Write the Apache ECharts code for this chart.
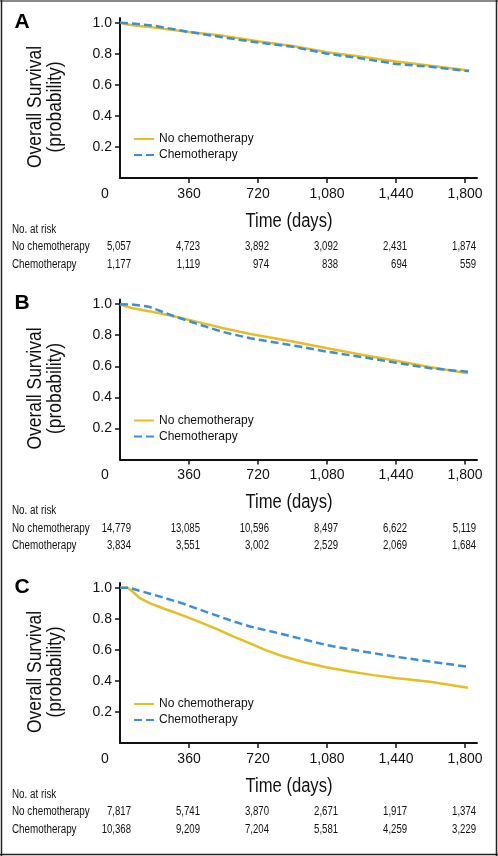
<!DOCTYPE html>
<html>
<head>
<meta charset="utf-8">
<script src="https://cdn.jsdelivr.net/npm/echarts@6/dist/echarts.min.js"></script>
<style>
html,body{margin:0;padding:0;background:#fff;}
#chart{width:498px;height:856px;}
</style>
</head>
<body>
<div id="chart"></div>
<script>
// ---------- DATA ----------
const xTicks = [0, 360, 720, 1080, 1440, 1800];
const yTicks = [0.2, 0.4, 0.6, 0.8, 1.0];
const seriesNames = ['No chemotherapy', 'Chemotherapy'];
const riskRows = ['No chemotherapy', 'Chemotherapy'];

// Panel A
const timeA_no = [0, 30, 90, 180, 360, 540, 720, 900, 1080, 1260, 1440, 1620, 1800, 1820];
const survA_no = [1.0, 0.99, 0.98, 0.968, 0.94, 0.915, 0.88, 0.85, 0.81, 0.78, 0.75, 0.722, 0.695, 0.693];
const timeA_ch = [0, 60, 180, 360, 540, 720, 900, 1080, 1260, 1440, 1620, 1800, 1820];
const survA_ch = [1.0, 0.995, 0.98, 0.94, 0.905, 0.872, 0.845, 0.80, 0.77, 0.734, 0.716, 0.69, 0.688];
const riskA_no = [5057, 4723, 3892, 3092, 2431, 1874];
const riskA_ch = [1177, 1119, 974, 838, 694, 559];

// Panel B
const timeB_no = [0, 20, 60, 150, 287, 420, 540, 680, 900, 1080, 1260, 1440, 1620, 1815];
const survB_no = [1.0, 0.99, 0.975, 0.955, 0.92, 0.881, 0.845, 0.808, 0.76, 0.716, 0.675, 0.636, 0.594, 0.555];
const timeB_ch = [0, 60, 150, 287, 420, 540, 680, 900, 1080, 1260, 1440, 1620, 1815];
const survB_ch = [1.0, 0.998, 0.984, 0.92, 0.866, 0.82, 0.78, 0.735, 0.694, 0.66, 0.623, 0.587, 0.565];
const riskB_no = [14779, 13085, 10596, 8497, 6622, 5119];
const riskB_ch = [3834, 3551, 3002, 2529, 2069, 1684];

// Panel C
const timeC_no = [0, 40, 68, 104, 157, 245, 330, 417, 506, 590, 678, 760, 850, 960, 1075, 1200, 1320, 1435, 1617, 1815];
const survC_no = [1.0, 1.0, 0.972, 0.932, 0.899, 0.858, 0.82, 0.778, 0.733, 0.686, 0.641, 0.598, 0.558, 0.52, 0.488, 0.46, 0.437, 0.418, 0.394, 0.356];
const timeC_ch = [0, 45, 157, 245, 330, 417, 506, 590, 678, 850, 1075, 1200, 1435, 1617, 1815];
const survC_ch = [1.0, 1.0, 0.961, 0.929, 0.897, 0.858, 0.82, 0.783, 0.75, 0.70, 0.631, 0.603, 0.556, 0.524, 0.491];
const riskC_no = [7817, 5741, 3870, 2671, 1917, 1374];
const riskC_ch = [10368, 9209, 7204, 5581, 4259, 3229];

// ---------- BUILD ----------
const REG = "'Liberation Sans', Arial, Helvetica, sans-serif";
const YELLOW = '#E5BE22';
const BLUE = '#3A8EDB';
const NARROW_SCALE = 0.82;

const panelDefs = [
  {letter: 'A', axisY: 178, tn: timeA_no, sn: survA_no, tc: timeA_ch, sc: survA_ch, rn: riskA_no, rc: riskA_ch},
  {letter: 'B', axisY: 459.5, tn: timeB_no, sn: survB_no, tc: timeB_ch, sc: survB_ch, rn: riskB_no, rc: riskB_ch},
  {letter: 'C', axisY: 743, tn: timeC_no, sn: survC_no, tc: timeC_ch, sc: survC_ch, rn: riskC_no, rc: riskC_ch}
];

const GL = 120, GW = 357, XMAX = 1862;
const grids = [], xAxes = [], yAxes = [], series = [], legends = [], graphics = [];
const fmt = v => Number(v).toLocaleString('en-US');
const zip = (a, b) => a.map((v, i) => [v, b[i]]);

panelDefs.forEach((p, i) => {
  grids.push({left: GL, width: GW, top: p.axisY - 160, height: 160});
  xAxes.push({
    type: 'value', gridIndex: i, min: 0, max: XMAX, interval: 360,
    axisLine: {show: true, lineStyle: {color: '#111', width: 2}},
    axisTick: {show: true, length: 5, lineStyle: {color: '#111', width: 1.5}, customValues: xTicks.slice(1)},
    axisLabel: {
      show: true, margin: 9, fontSize: 14, fontFamily: REG, color: '#111',
      customValues: xTicks,
      formatter: v => v === 0 ? '{z|0}' : fmt(v),
      rich: {z: {fontSize: 14, fontFamily: REG, color: '#111', padding: [0, 30, 0, 0]}}
    },
    splitLine: {show: false}
  });
  yAxes.push({
    type: 'value', gridIndex: i, min: 0, max: 1.03, interval: 0.2,
    axisLine: {show: true, lineStyle: {color: '#111', width: 2}},
    axisTick: {show: true, length: 5, lineStyle: {color: '#111', width: 1.5}, customValues: yTicks},
    axisLabel: {
      show: true, margin: 8, fontSize: 14, fontFamily: REG, color: '#111',
      customValues: yTicks, formatter: v => v.toFixed(1)
    },
    splitLine: {show: false}
  });
  series.push({
    name: seriesNames[0], type: 'line', xAxisIndex: i, yAxisIndex: i,
    data: zip(p.tn, p.sn), showSymbol: false, symbol: 'none', z: 3,
    lineStyle: {color: YELLOW, width: 2.5}, itemStyle: {color: YELLOW}
  });
  series.push({
    name: seriesNames[1], type: 'line', xAxisIndex: i, yAxisIndex: i,
    data: zip(p.tc, p.sc), showSymbol: false, symbol: 'none', z: 4,
    lineStyle: {color: BLUE, width: 2.5, type: [8, 4]}, itemStyle: {color: BLUE}
  });
  legends.push({
    orient: 'vertical', left: 133, top: p.axisY - 45, padding: 0,
    data: seriesNames.slice(), itemWidth: 20, itemHeight: 12, itemGap: 4,
    selectedMode: false,
    itemStyle: {opacity: 0},
    textStyle: {fontSize: 12, fontFamily: REG, color: '#111'}
  });
  graphics.push({type: 'text', x: 22, y: p.axisY - 156, style: {text: p.letter, font: 'bold 21px ' + REG, fill: '#000', align: 'center', verticalAlign: 'middle'}});
  graphics.push({type: 'text', x: 45, y: p.axisY - 71, rotation: Math.PI / 2, scaleX: 0.83,
    style: {text: 'Overall Survival\n(probability)', font: '21px ' + REG, lineHeight: 20, fill: '#111', align: 'center', verticalAlign: 'middle'}});
  graphics.push({type: 'text', x: 289, y: p.axisY + 43, scaleX: 0.83,
    style: {text: 'Time (days)', font: '20px ' + REG, fill: '#111', align: 'center', verticalAlign: 'middle'}});
  graphics.push({type: 'text', x: 12, y: p.axisY + 51.5, scaleX: NARROW_SCALE,
    style: {text: 'No. at risk', font: '12px ' + REG, fill: '#111', align: 'left', verticalAlign: 'middle'}});
  riskRows.forEach((r, k) => {
    graphics.push({type: 'text', x: 12, y: p.axisY + 69 + k * 17.5, scaleX: NARROW_SCALE,
      style: {text: r, font: '12px ' + REG, fill: '#111', align: 'left', verticalAlign: 'middle'}});
  });
});

// risk-table grids (hidden axes share the time scale)
panelDefs.forEach((p, i) => {
  const gi = 3 + i;
  grids.push({left: GL, width: GW, top: p.axisY + 69, height: 17.5});
  xAxes.push({type: 'value', gridIndex: gi, min: 0, max: XMAX, show: false});
  yAxes.push({type: 'value', gridIndex: gi, min: 0, max: 1, inverse: true, show: false});
  const data = [];
  xTicks.forEach((t, j) => { data.push([t, 0, p.rn[j]]); data.push([t, 1, p.rc[j]]); });
  series.push({
    type: 'custom', xAxisIndex: gi, yAxisIndex: gi, data: data, silent: true,
    renderItem: (params, api) => {
      const pt = api.coord([api.value(0), api.value(1)]);
      return {
        type: 'text', x: pt[0] + 11, y: pt[1], scaleX: 0.8,
        style: {text: fmt(api.value(2)), font: '12px ' + REG, fill: '#111', align: 'right', verticalAlign: 'middle'}
      };
    }
  });
});

// frame
graphics.push({type: 'line', shape: {x1: 0, y1: 1, x2: 498, y2: 1}, style: {stroke: '#8a8a8a', lineWidth: 2}});
graphics.push({type: 'line', shape: {x1: 1.5, y1: 0, x2: 1.5, y2: 856}, style: {stroke: '#222', lineWidth: 1.5}});
graphics.push({type: 'line', shape: {x1: 496.5, y1: 0, x2: 496.5, y2: 856}, style: {stroke: '#222', lineWidth: 1.5}});
graphics.push({type: 'line', shape: {x1: 0, y1: 854.5, x2: 498, y2: 854.5}, style: {stroke: '#222', lineWidth: 1.5}});

const chart = echarts.init(document.getElementById('chart'), null, {renderer: 'canvas'});
chart.setOption({
  animation: false,
  backgroundColor: '#fff',
  grid: grids,
  xAxis: xAxes,
  yAxis: yAxes,
  legend: legends,
  series: series,
  graphic: graphics
});
</script>
</body>
</html>
